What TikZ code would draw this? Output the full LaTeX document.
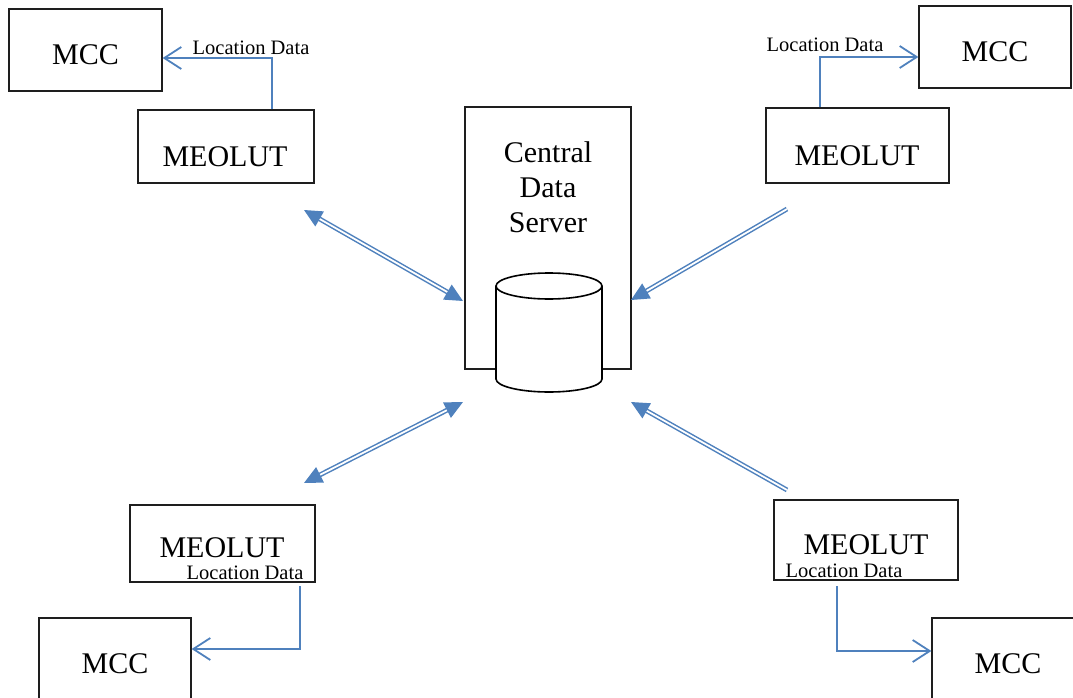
\documentclass[tikz,border=0pt]{standalone}
\usepackage{fontspec}
\setmainfont{Liberation Serif}
\usetikzlibrary{arrows.meta,shapes.geometric}
\definecolor{lineblue}{RGB}{79,129,189}
\definecolor{boxline}{RGB}{30,30,30}
\tikzset{
  box/.style={draw=boxline, line width=1.3pt, fill=white, inner sep=0pt},
  big/.style={font=\fontsize{30}{36}\selectfont, anchor=base, inner sep=0pt},
  small/.style={font=\fontsize{20.5}{24}\selectfont, anchor=base, inner sep=0pt},
  feed/.style={draw=lineblue, line width=1.8pt, -{Straight Barb[length=17pt,width=22pt,line width=1.8pt]}},
  dbl/.style={draw=lineblue, line width=1.5pt, double=white, double distance=1.8pt},
  dblboth/.style={dbl, {Triangle[length=18pt,width=17pt,fill=lineblue]}-{Triangle[length=18pt,width=17pt,fill=lineblue]}},
  dblone/.style={dbl, -{Triangle[length=18pt,width=17pt,fill=lineblue]}},
}
\begin{document}
\begin{tikzpicture}[x=1pt,y=-1pt]
\useasboundingbox (0,0) rectangle (1073,698);

% Central server
\node[box, minimum width=166pt, minimum height=262pt] (server) at (548,238) {};
\node[big] (t1) at (548,162) {Central};
\node[big] (t2) at (548,197) {Data};
\node[big] (t3) at (548,232) {Server};
% database cylinder
\coordinate (dbtop) at (549,286);
\fill[white] (496,286) -- (496,379) arc[start angle=180,end angle=0,x radius=53,y radius=13] -- (602,286) -- cycle;
\draw[line width=1.6pt, fill=white] (dbtop) ellipse [x radius=53, y radius=13];
\draw[line width=1.6pt] (496,286) -- (496,379) arc[start angle=180,end angle=0,x radius=53,y radius=13] -- (602,286);

% Top-left
\node[box, minimum width=153pt, minimum height=82pt] (mcc1) at (85.5,50) {};
\node[big] (mcc1t) at (85.5,65) {MCC};
\node[box, minimum width=176pt, minimum height=73pt] (meo1) at (226,146.5) {};
\node[big] (meo1t) at (225,166) {MEOLUT};
\node[small] (loc1) at (251,55) {Location Data};
\draw[feed] (meo1.north -| 272,0) -- (272,58) -- (mcc1.east |- 0,58);

% Top-right
\node[box, minimum width=152pt, minimum height=82pt] (mcc2) at (995,47) {};
\node[big] (mcc2t) at (995,62) {MCC};
\node[box, minimum width=183pt, minimum height=75pt] (meo2) at (857.5,145.5) {};
\node[big] (meo2t) at (857,165) {MEOLUT};
\node[small] (loc2) at (825,52) {Location Data};
\draw[feed] (meo2.north -| 820,0) -- (820,57) -- (mcc2.west |- 0,57);

% Bottom-left
\node[box, minimum width=185pt, minimum height=77pt] (meo3) at (222.5,543.5) {};
\node[big] (meo3t) at (222,557.5) {MEOLUT};
\node[small] (loc3) at (245,579) {Location Data};
\node[box, minimum width=152pt, minimum height=120pt] (mcc3) at (115,678) {};
\node[big] (mcc3t) at (115,673) {MCC};
\draw[feed] (300,586) -- (300,649) -- (mcc3.east |- 0,649);

% Bottom-right
\node[box, minimum width=184pt, minimum height=80pt] (meo4) at (866,540) {};
\node[big] (meo4t) at (866,554) {MEOLUT};
\node[small] (loc4) at (844,577) {Location Data};
\node[box, minimum width=152pt, minimum height=120pt] (mcc4) at (1008,678) {};
\node[big] (mcc4t) at (1008,673) {MCC};
\draw[feed] (837,586) -- (837,651) -- (mcc4.west |- 0,651);

% Double arrows
\coordinate (a1s) at (304,210);
\coordinate (a1e) at (463,301);
\coordinate (a2s) at (787,209);
\coordinate (a2e) at (631,300);
\coordinate (a3s) at (304,483);
\coordinate (a3e) at (463,402);
\coordinate (a4s) at (787,490);
\coordinate (a4e) at (631,402);
\draw[dblboth] (a1s) -- (a1e);
\draw[dblone] (a2s) -- (a2e);
\draw[dblboth] (a3s) -- (a3e);
\draw[dblone] (a4s) -- (a4e);
\end{tikzpicture}
\end{document}
